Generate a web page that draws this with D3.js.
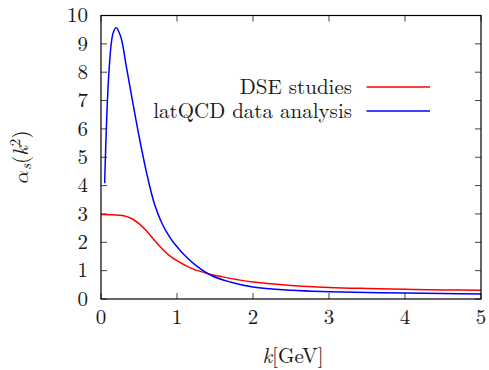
<!DOCTYPE html>
<html><head><meta charset="utf-8">
<script src="https://cdn.jsdelivr.net/npm/d3@7"></script>
<style>body{margin:0;background:#fff}svg{display:block}</style>
</head><body><svg id="c" width="489" height="370"></svg>
<script>
const xTicks = [0,1,2,3,4,5];
const yTicks = [0,1,2,3,4,5,6,7,8,9,10];
const seriesNames = ["DSE studies","latQCD data analysis"];
const dseK   = [0,0.15,0.3,0.4,0.5,0.6,0.7,0.8,0.9,1.0,1.1,1.2,1.4,1.6,1.8,2.0,2.5,3.0,3.5,4.0,4.5,5.0];
const dseVal = [2.98,2.97,2.94,2.84,2.66,2.40,2.08,1.78,1.53,1.35,1.20,1.07,0.90,0.78,0.68,0.60,0.48,0.41,0.37,0.34,0.32,0.31];
const latK   = [0.048,0.105,0.158,0.20,0.26,0.33,0.40,0.50,0.60,0.70,0.80,0.90,1.0,1.1,1.26,1.46,1.7,2.0,2.5,3.0,3.5,4.0,4.5,5.0];
const latVal = [4.08,8.02,9.37,9.57,9.25,8.25,7.20,5.75,4.45,3.38,2.68,2.20,1.84,1.54,1.16,0.82,0.60,0.42,0.31,0.26,0.23,0.21,0.19,0.18];

const FF = "'Latin Modern Roman'";
const FS = 21;
const svg = d3.select("#c");
const L=101, R=481, T=15.5, B=299;
const x = d3.scaleLinear().domain([0,5]).range([L,R]);
const y = d3.scaleLinear().domain([0,10]).range([B,T]);
const tl = 6;

const g = svg.append("g");
const tk = g.append("g").attr("stroke","#444").attr("stroke-width",1);
xTicks.forEach(v=>{
  tk.append("line").attr("x1",x(v)).attr("x2",x(v)).attr("y1",B).attr("y2",B-tl);
  tk.append("line").attr("x1",x(v)).attr("x2",x(v)).attr("y1",T).attr("y2",T+tl);
});
yTicks.forEach(v=>{
  tk.append("line").attr("x1",L).attr("x2",L+tl).attr("y1",y(v)).attr("y2",y(v));
  tk.append("line").attr("x1",R).attr("x2",R-tl).attr("y1",y(v)).attr("y2",y(v));
});
function txt(sel){ return sel.style("font-family",FF).attr("font-size",FS).attr("fill","#1a1a1a"); }
txt(g.append("g").selectAll("text").data(xTicks).join("text"))
  .attr("x",d=>x(d)).attr("y",323.5).attr("text-anchor","middle").text(d=>d);
txt(g.append("g").selectAll("text").data(yTicks).join("text"))
  .attr("x",88).attr("y",d=>y(d)+6.8).attr("text-anchor","end").text(d=>d);

const line = d3.line().curve(d3.curveCatmullRom.alpha(0.5));
svg.append("clipPath").attr("id","clp").append("rect").attr("x",L).attr("y",T).attr("width",R-L).attr("height",B-T);
const cg = g.append("g").attr("clip-path","url(#clp)");
cg.append("path").attr("d",line(dseK.map((k,i)=>[x(k),y(dseVal[i])]))).attr("fill","none").attr("stroke","#f00").attr("stroke-width",1.5);
cg.append("path").attr("d",line(latK.map((k,i)=>[x(k),y(latVal[i])]))).attr("fill","none").attr("stroke","#00f").attr("stroke-width",1.5);

g.append("rect").attr("x",L).attr("y",T).attr("width",R-L).attr("height",B-T).attr("fill","none").attr("stroke","#000").attr("stroke-width",1.2);

const colors=["#f00","#00f"];
seriesNames.forEach((n,i)=>{
  const yy = 87 + i*24;
  txt(g.append("text")).attr("x",352).attr("y",yy+6.8).attr("text-anchor","end").text(n);
  g.append("line").attr("x1",366.5).attr("x2",430).attr("y1",yy).attr("y2",yy).attr("stroke",colors[i]).attr("stroke-width",1.5);
});

const xl = txt(g.append("text")).attr("x",293).attr("y",363).attr("text-anchor","middle");
xl.append("tspan").attr("font-style","italic").text("k");
xl.append("tspan").text("[GeV]");
const yl = txt(g.append("text")).attr("transform","translate(28,157) rotate(-90)").attr("text-anchor","middle");
yl.append("tspan").style("font-family","'Latin Modern Math'").text("𝛼");
yl.append("tspan").attr("font-style","italic").attr("font-size",15).attr("dy",3).text("s");
yl.append("tspan").attr("dy",-3).text("(");
yl.append("tspan").attr("font-style","italic").text("k");
yl.append("tspan").attr("font-size",15).attr("dy",-8).text("2");
yl.append("tspan").attr("dy",8).text(")");
</script></body></html>
